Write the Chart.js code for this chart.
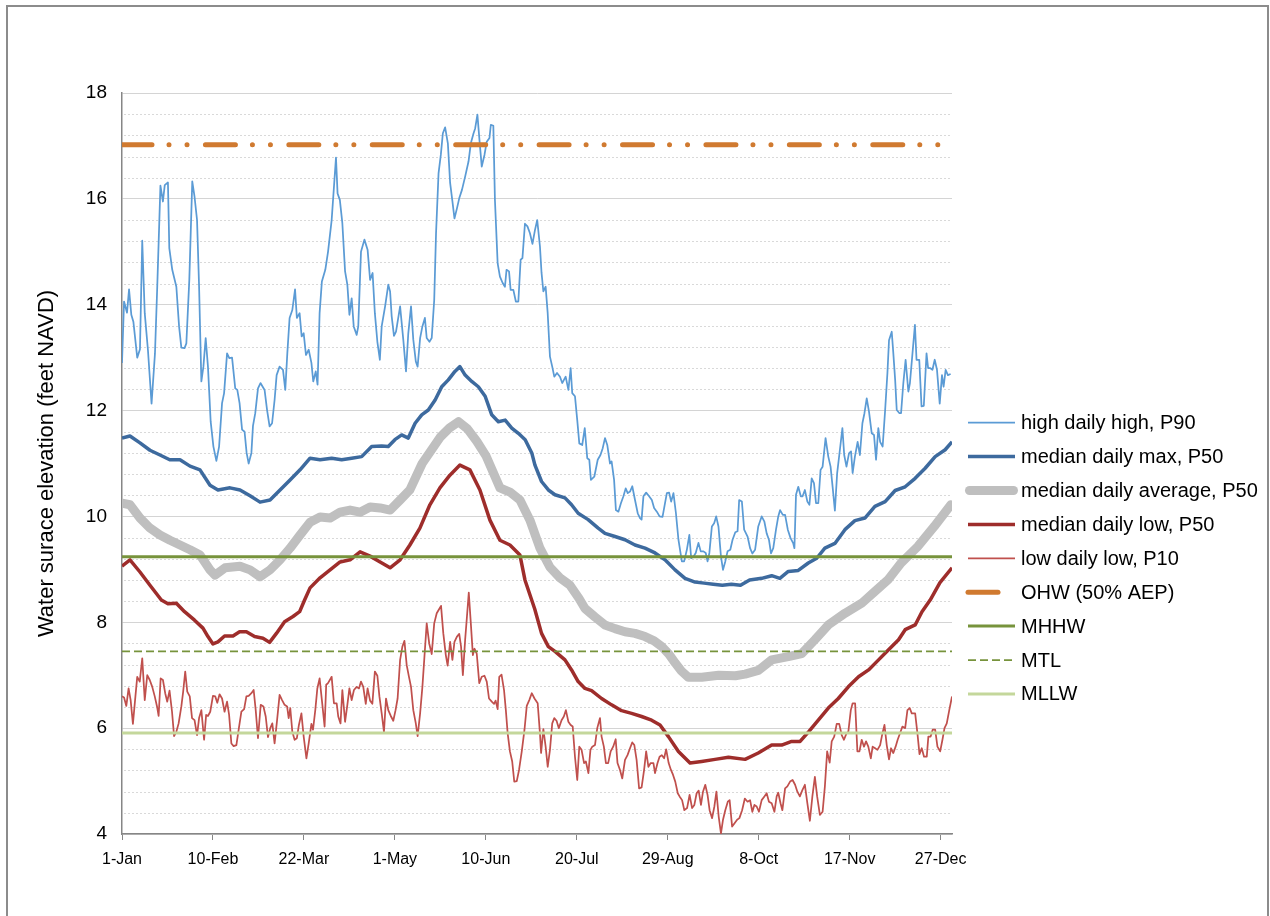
<!DOCTYPE html>
<html>
<head>
<meta charset="utf-8">
<script src="https://cdn.jsdelivr.net/npm/chart.js@4.4.1/dist/chart.umd.min.js"></script>
<style>
  html, body { margin: 0; padding: 0; background: #ffffff; }
  #wrap { width: 1270px; height: 916px; position: relative; }
</style>
</head>
<body>
<div id="wrap"><canvas id="c" width="1270" height="916"></canvas></div>
<script>
// Day of year (0 = 1-Jan) tick positions and their labels
const TICK_DAYS = [0, 40, 80, 120, 160, 200, 240, 280, 320, 360];
const TICK_LABELS = ['1-Jan', '10-Feb', '22-Mar', '1-May', '10-Jun', '20-Jul', '29-Aug', '8-Oct', '17-Nov', '27-Dec'];

// Reference tidal / flood levels (feet NAVD)
const OHW_LEVEL = 17.02;
const MHHW_LEVEL = 9.24;
const MTL_LEVEL = 7.45;
const MLLW_LEVEL = 5.91;

// High daily high, P90
const p90Days = [0,0.9,2.2,3.1,4.1,5.0,6.7,7.9,8.9,10.0,11.4,13.0,14.5,15.5,16.9,18.0,18.8,20.2,20.8,22.1,23.9,25.1,26.1,27.5,28.3,29.6,30.9,31.9,33.0,33.9,34.9,35.8,36.8,37.8,39.0,40.2,41.5,42.7,44.0,44.9,46.2,47.2,48.4,49.8,50.7,51.7,52.8,53.9,54.8,55.7,56.9,57.6,58.6,59.8,60.9,62.7,63.8,64.9,66.0,67.1,68.0,69.3,70.8,71.8,72.7,73.7,74.9,76.1,76.9,78.1,79.0,79.9,80.9,82.1,83.3,84.1,85.2,86.0,86.9,87.9,89.4,90.6,92.2,94.1,94.8,95.8,96.9,98.1,99.1,100.0,101.0,101.9,103.2,103.9,105.1,106.6,108.0,109.1,110.2,111.2,112.3,113.4,114.2,115.7,117.1,117.9,118.6,119.6,120.5,122.3,123.7,124.9,125.9,127.1,128.1,129.2,130.0,131.1,132.1,133.2,134.0,135.2,136.2,137.3,138.1,139.2,140.2,141.1,142.1,143.3,144.3,145.4,146.2,147.3,148.3,149.5,150.9,152.4,153.4,154.6,155.3,156.3,157.2,158.2,159.4,160.4,161.6,162.2,163.3,164.0,165.2,166.2,167.4,168.4,169.1,170.2,170.9,172.1,173.2,174.3,175.3,176.1,177.2,178.3,179.4,180.5,181.6,182.6,183.8,184.5,185.3,186.3,187.2,188.2,189.2,190.1,191.3,192.6,193.6,195.1,196.3,197.3,198.0,199.2,200.2,201.1,202.4,203.5,204.6,205.5,206.2,207.7,209.2,210.4,211.4,212.4,213.4,214.6,215.3,216.4,217.2,218.3,219.4,220.5,221.5,222.4,223.4,224.4,225.6,226.8,227.8,228.5,229.3,230.5,231.8,233.0,234.0,235.2,236.4,237.7,238.8,239.6,240.6,241.5,242.5,243.6,244.7,246.2,247.2,248.4,249.5,250.3,251.3,252.3,253.5,254.5,255.7,256.7,257.5,258.3,259.4,260.4,261.3,262.3,263.4,264.3,265.3,266.3,267.5,268.5,269.7,270.7,271.4,272.6,273.6,275.1,276.2,277.2,278.4,279.8,281.3,282.5,283.5,284.5,285.4,286.4,287.6,288.6,289.4,290.6,291.6,292.8,294.0,295.2,295.7,296.4,297.4,298.5,299.3,300.3,301.4,302.3,303.3,304.3,305.2,306.2,307.2,308.1,309.4,310.6,311.6,312.5,313.5,314.5,315.7,316.8,317.6,318.6,319.7,320.6,321.3,322.3,323.5,324.5,325.6,326.5,327.5,328.5,329.7,330.7,331.6,332.6,333.4,334.5,335.6,336.6,337.3,338.5,339.2,340.0,340.7,341.9,342.6,343.6,344.6,345.8,346.5,347.5,348.7,349.4,350.6,351.6,352.6,353.8,354.5,355.5,356.4,357.4,358.4,359.6,360.6,361.3,362.2,363.2,364.4];
const p90Vals = [12.9,14.06,13.85,14.29,13.81,13.68,13.0,13.16,15.21,13.84,13.15,12.13,13.08,14.34,16.25,15.95,16.26,16.31,15.07,14.66,14.34,13.59,13.19,13.18,13.27,14.47,16.33,16.04,15.6,14.34,12.55,12.83,13.37,12.83,11.79,11.32,11.05,11.32,12.14,12.33,13.08,12.99,13.0,12.42,12.39,12.14,11.64,11.6,11.2,11.0,11.2,11.71,11.95,12.42,12.52,12.39,12.01,11.7,11.76,12.2,12.67,12.83,12.77,12.39,13.08,13.75,13.9,14.29,13.75,13.84,13.4,13.46,13.05,13.15,12.9,12.55,12.74,12.49,13.84,14.44,14.66,15.0,15.6,16.78,16.1,15.98,15.54,14.63,14.38,13.81,14.12,13.59,13.43,13.59,15.0,15.23,15.04,14.47,14.6,13.84,13.3,12.96,13.59,13.97,14.38,14.25,13.78,13.41,13.49,13.97,13.34,12.74,13.46,13.97,13.34,12.93,12.83,13.37,13.59,13.75,13.37,13.3,13.37,14.09,15.35,16.48,16.83,17.24,17.35,17.05,16.3,15.92,15.63,15.82,16.01,16.17,16.42,16.71,17.05,17.24,17.33,17.59,17.11,16.61,16.83,17.08,17.15,17.4,17.38,15.98,14.78,14.53,14.41,14.34,14.66,14.63,14.28,14.28,14.06,14.06,14.85,14.88,15.53,15.48,15.35,15.15,15.41,15.6,15.1,14.6,14.25,14.34,13.84,13.02,12.83,12.64,12.71,12.64,12.52,12.64,12.39,12.8,12.33,12.27,11.82,11.38,11.35,11.67,11.1,11.07,10.69,10.75,11.07,11.16,11.29,11.48,11.35,11.0,11.04,10.69,10.12,10.09,10.25,10.38,10.53,10.44,10.47,10.57,10.31,10.06,9.97,9.94,10.38,10.45,10.38,10.31,10.16,10.09,10.0,9.99,10.25,10.44,10.45,10.28,10.44,10.06,9.56,9.15,9.15,9.37,9.65,9.21,9.24,9.31,9.5,9.34,9.34,9.31,9.15,9.31,9.81,9.87,10.0,9.81,9.24,8.99,9.15,9.34,9.37,9.56,9.7,9.72,10.31,10.28,9.75,9.62,9.4,9.3,9.37,9.81,10.0,9.9,9.68,9.56,9.3,9.4,9.75,10.0,10.12,10.03,10.03,9.75,9.59,9.49,9.4,10.41,10.56,10.38,10.38,10.5,10.28,10.22,10.72,10.63,10.25,10.25,10.88,10.94,11.48,11.13,10.94,10.56,10.11,10.82,11.26,11.67,11.16,10.94,11.19,11.23,10.82,11.13,11.41,11.16,11.76,11.95,12.23,11.98,11.57,11.54,11.07,11.67,11.41,11.32,12.01,12.71,13.33,13.49,13.08,12.58,12.01,11.95,11.95,12.52,12.96,12.36,12.52,13.02,13.62,12.96,12.96,12.08,12.09,13.08,12.8,12.8,12.77,12.96,12.77,12.13,12.67,12.45,12.77,12.67,12.69];

// Median daily max, P50
const maxDays = [0,3.5,7.9,12.3,16.7,21,25.5,29.9,34.3,38.7,42.2,47.5,51.9,56.3,60.7,65.1,69.5,73.9,78.3,82.7,87.1,92.2,96.6,101,105.4,109.8,114.2,117.1,120,123,125.9,128.9,131.8,134.7,137.7,140.6,143.5,146.4,148.6,150.9,153.8,156.7,159.7,162.6,165.5,168.5,171.4,174.3,177.3,180.2,181.6,184.5,187.5,190.4,194.8,197.7,200.6,205,209.4,212.4,216.8,221.2,225.6,230,234.4,238.8,243.2,247.6,252,256,260,264,268,272,276,281.3,285.7,289.3,293,297.4,301.8,305.5,309.1,313.5,317.9,322.3,326.7,331.1,335.6,340,344.4,348.8,353.2,357.6,362,365];
const maxVals = [11.48,11.52,11.39,11.25,11.16,11.07,11.07,10.95,10.88,10.59,10.5,10.54,10.5,10.39,10.27,10.31,10.5,10.69,10.88,11.1,11.07,11.1,11.07,11.1,11.13,11.32,11.33,11.32,11.45,11.54,11.48,11.76,11.92,12.01,12.2,12.45,12.58,12.74,12.83,12.67,12.55,12.45,12.27,11.92,11.79,11.82,11.67,11.57,11.45,11.2,10.97,10.66,10.5,10.41,10.35,10.22,10.06,9.94,9.78,9.68,9.62,9.56,9.46,9.4,9.31,9.18,8.99,8.83,8.76,8.74,8.72,8.7,8.72,8.7,8.8,8.83,8.88,8.83,8.96,8.98,9.12,9.21,9.4,9.49,9.75,9.92,9.97,10.19,10.28,10.49,10.56,10.72,10.91,11.13,11.26,11.41];

// Median daily average, P50
const avgDays = [0,3.5,7.9,12.3,16.7,21.1,25.5,29.9,34.3,38.7,40.9,45.3,51.9,56.3,60.7,65.1,69.5,73.9,78.3,82.7,87.1,91.5,95.9,100.3,104.7,109.1,113.5,117.9,122.3,126.6,132,136,140,144,148,152,156,160,166.2,170.6,175,179.4,183.8,188.2,192.6,197,201,203.6,208,212.4,216.8,221.2,225.6,230,234,237.4,240.5,243.3,246,249.1,255,262.4,269.7,274,279.8,285.7,293,298.9,304.7,310.6,317.9,325.3,331,336.8,342.6,349.9,357.2,364.5];
const avgVals = [10.25,10.22,9.97,9.78,9.65,9.55,9.46,9.37,9.27,8.99,8.89,9.03,9.06,8.99,8.86,8.99,9.18,9.4,9.65,9.89,9.99,9.97,10.08,10.12,10.08,10.18,10.16,10.12,10.31,10.5,11.0,11.25,11.5,11.67,11.79,11.65,11.42,11.15,10.54,10.46,10.31,9.93,9.4,9.04,8.84,8.7,8.45,8.26,8.1,7.95,7.88,7.82,7.79,7.73,7.65,7.54,7.4,7.23,7.08,6.96,6.96,7.0,6.99,7.02,7.09,7.29,7.35,7.41,7.67,7.95,8.17,8.36,8.58,8.8,9.12,9.43,9.81,10.22];

// Median daily low, P50
const lowDays = [0,3.5,7.9,12.3,17.3,20.2,23.9,27.5,31.9,35.6,37.8,40,42.2,45.1,48.8,51.7,54.7,58.3,62,64.9,67.9,71.5,75.2,78.1,80.3,82.7,87.1,91.5,95.9,100.3,104.7,109.1,113.5,117.9,122.3,126.6,131,135.4,139.8,144.2,148.6,153,157.4,161.8,166.2,170.6,175,177.2,181.5,184.5,187.5,190.4,194.8,197.7,200.6,203.6,206.5,210.9,215.3,219.7,224.1,228.5,232.9,236.6,240.3,244.7,249.8,254.9,260.8,266.7,274,279.8,285.7,290.1,294.5,298.2,301.9,306.2,310.6,315,319.4,323.9,328.3,332.7,337.1,341.5,344.4,348.8,351.8,355.4,359.7,365];
const lowVals = [9.06,9.18,8.95,8.7,8.42,8.35,8.36,8.2,8.04,7.89,7.73,7.59,7.63,7.74,7.74,7.82,7.82,7.73,7.7,7.62,7.79,8.01,8.11,8.2,8.42,8.65,8.84,8.99,9.14,9.18,9.33,9.25,9.14,9.03,9.18,9.46,9.78,10.22,10.54,10.78,10.97,10.88,10.5,9.93,9.55,9.46,9.27,8.8,8.25,7.79,7.54,7.45,7.29,7.1,6.88,6.75,6.71,6.56,6.44,6.33,6.28,6.22,6.15,6.06,5.84,5.56,5.34,5.37,5.41,5.45,5.41,5.53,5.68,5.68,5.75,5.75,5.93,6.15,6.38,6.56,6.78,6.97,7.1,7.29,7.48,7.67,7.86,7.95,8.2,8.42,8.75,9.03];

// Low daily low, P10
const p10Days = [0,0.9,1.9,2.9,3.8,4.8,5.9,6.7,7.8,8.9,10.0,11.1,12.2,13.3,14.4,15.4,16.1,17.0,18.0,19.0,19.9,20.9,22.0,22.9,23.9,24.9,26.1,26.9,27.8,28.7,29.8,30.8,31.9,33.0,33.9,34.9,36.1,37.0,37.8,38.8,40.0,41.0,41.9,42.9,44.0,45.1,46.2,47.1,48.1,49.1,50.3,51.3,52.5,53.7,54.7,55.7,56.9,57.9,58.8,59.8,61.0,62.2,63.2,64.2,65.2,66.1,67.1,68.2,69.3,70.4,71.5,72.6,73.3,74.0,74.9,75.9,76.9,77.8,78.9,79.9,81.1,82.1,83.3,84.0,85.0,85.9,86.9,87.9,89.1,89.8,90.6,92.2,93.2,94.4,95.1,96.1,96.9,98.1,99.1,100.0,101.0,102.0,103.2,104.2,105.1,106.1,107.2,108.0,109.1,110.1,111.2,112.3,113.2,114.2,115.2,116.1,117.1,118.2,119.3,120.3,121.2,122.3,123.3,124.2,125.2,126.2,127.1,128.1,129.2,130.0,131.1,132.1,133.0,134.0,135.1,136.2,137.3,138.4,139.5,140.3,141.3,142.4,143.2,144.3,145.3,146.2,147.3,148.3,149.1,149.9,150.9,151.7,152.5,153.4,154.3,155.0,156.0,157.1,158.2,159.4,160.4,161.4,162.6,163.6,164.3,165.2,165.9,166.9,168.0,168.8,169.6,170.6,171.6,172.5,173.6,174.6,175.8,177.0,178.0,179.1,180.2,181.4,182.8,183.8,184.3,185.3,186.3,187.2,188.2,189.2,190.1,191.1,192.1,193.3,194.3,195.2,196.3,197.3,198.2,199.2,200.2,201.1,202.1,203.2,204.0,205.1,206.0,206.8,208.0,209.0,210.2,210.9,211.9,212.8,213.8,214.9,216.0,217.1,217.9,219.0,220.0,221.2,222.3,223.4,224.4,225.3,226.3,227.4,228.5,229.6,230.5,231.5,232.5,233.7,234.4,235.5,236.4,237.4,238.4,239.3,240.4,241.4,242.3,243.3,244.4,245.2,246.3,247.3,248.5,249.6,250.7,251.7,252.7,253.6,254.6,255.5,256.5,257.5,258.4,259.5,260.5,261.4,262.4,263.4,264.3,265.3,266.4,267.2,268.3,269.3,270.5,271.5,272.7,273.9,275.1,276.2,277.2,278.1,279.1,280.1,281.3,282.5,283.5,284.5,285.7,286.9,287.9,288.6,289.6,290.4,291.6,292.6,293.8,294.9,296.0,297.0,298.1,299.2,300.3,301.4,302.5,303.6,304.7,305.7,306.9,308.1,309.1,310.1,311.2,312.1,313.2,314.3,315.4,316.5,317.5,318.6,319.4,320.5,321.3,322.4,323.4,324.3,325.3,326.3,327.2,328.2,329.3,330.1,331.2,332.2,333.4,334.4,335.3,336.3,337.3,338.2,339.2,340.2,341.1,342.1,343.2,344.4,345.4,346.4,347.3,348.8,349.8,350.7,351.7,352.7,353.9,354.6,355.6,356.5,357.6,358.6,359.8,360.8,361.7,362.7,363.8,365.0];
const p10Vals = [6.6,6.58,6.42,6.75,6.53,6.08,6.6,6.97,6.88,7.32,6.53,7.0,6.91,6.78,6.6,6.41,6.23,6.94,6.91,6.66,6.5,6.71,6.31,5.85,5.93,6.09,6.41,6.69,7.07,6.69,6.6,6.19,6.15,5.87,6.19,6.34,5.78,6.25,6.23,6.31,6.61,6.6,6.48,6.64,6.56,6.31,6.5,6.25,5.71,5.66,5.68,5.97,6.31,6.36,6.6,6.61,6.66,6.72,6.34,5.81,6.44,6.41,6.22,5.83,6.0,6.09,5.71,6.15,6.63,6.53,6.44,6.41,6.19,6.38,5.93,5.78,5.81,6.06,6.28,5.84,5.43,5.71,6.08,5.97,6.34,6.75,6.94,6.53,6.03,6.82,6.85,6.97,6.47,6.47,6.22,6.09,6.72,6.12,6.44,6.75,6.53,6.72,6.78,6.75,6.88,6.78,6.46,6.75,6.52,6.46,7.07,6.99,6.6,6.28,5.93,6.56,6.34,6.23,6.14,6.34,6.56,7.29,7.54,7.65,7.19,6.97,6.78,6.34,6.09,5.85,6.28,6.78,7.35,7.98,7.6,7.4,7.98,8.17,8.25,8.31,7.79,7.38,7.18,7.63,7.29,7.63,7.73,7.78,7.54,7.0,7.67,8.11,8.56,7.98,7.38,7.5,7.41,6.85,6.97,6.99,6.88,6.56,6.5,6.46,6.52,6.36,6.97,7.01,6.72,6.34,5.9,5.56,5.37,4.99,5.0,5.21,5.56,5.97,6.42,6.53,6.66,6.56,6.47,5.9,5.53,5.98,5.65,5.27,5.59,6.09,6.19,6.14,6.0,6.15,6.22,6.34,6.12,6.06,6.03,5.46,5.02,5.65,5.59,5.34,5.37,5.15,5.59,5.65,5.68,6.0,6.19,5.84,5.65,5.34,5.34,5.56,5.65,5.79,5.34,5.21,5.05,5.4,5.49,5.62,5.73,5.68,5.4,4.86,4.88,5.21,5.56,5.27,5.34,5.34,5.15,5.34,5.46,5.49,5.43,5.6,5.34,5.21,5.12,4.99,4.77,4.71,4.64,4.45,4.49,4.74,4.49,4.55,4.77,4.82,4.55,4.8,4.93,4.74,4.45,4.3,4.52,4.8,4.33,4.01,4.27,4.45,4.61,4.64,4.14,4.2,4.27,4.3,4.45,4.67,4.61,4.64,4.42,4.55,4.52,4.42,4.64,4.71,4.77,4.61,4.58,4.42,4.71,4.78,4.58,4.45,4.86,4.9,4.99,5.02,4.93,4.8,4.71,4.83,4.93,4.58,4.25,4.71,5.08,4.71,4.36,4.42,4.9,5.56,5.35,5.75,5.84,6.08,6.08,5.87,5.78,5.9,5.93,6.34,6.47,6.47,5.56,5.56,5.78,5.65,5.75,5.65,5.43,5.65,5.62,5.59,5.68,5.9,6.06,5.68,5.41,5.62,5.53,5.65,5.78,5.9,6.03,6.0,6.34,6.38,6.28,6.28,5.9,5.51,5.62,5.46,5.46,5.84,5.84,5.97,5.97,5.65,5.56,5.78,6.0,6.09,6.34,6.6];

const YEAR_END = 365;
const FONT = '"Liberation Sans", Arial, sans-serif';

const pts = (days, vals) => days.map((d, i) => ({ x: d, y: vals[i] }));
const flat = (v) => [{ x: 0, y: v }, { x: YEAR_END, y: v }];

const seriesDefs = [
  { label: 'high daily high, P90', data: pts(p90Days, p90Vals), borderColor: '#5b9bd5', borderWidth: 1.75 },
  { label: 'median daily max, P50', data: pts(maxDays, maxVals), borderColor: '#3d6a9e', borderWidth: 3.5 },
  { label: 'median daily average, P50', data: pts(avgDays, avgVals), borderColor: '#bfbfbf', borderWidth: 9, borderCapStyle: 'round' },
  { label: 'median daily low, P50', data: pts(lowDays, lowVals), borderColor: '#9e2d2b', borderWidth: 3.5 },
  { label: 'low daily low, P10', data: pts(p10Days, p10Vals), borderColor: '#c0504d', borderWidth: 1.75 },
  { label: 'OHW (50% AEP)', data: flat(OHW_LEVEL), borderColor: '#d07a30', borderWidth: 5, borderCapStyle: 'round', borderDash: [30, 17, 0.01, 18, 0.01, 18.4] },
  { label: 'MHHW', data: flat(MHHW_LEVEL), borderColor: '#77933c', borderWidth: 3 },
  { label: 'MTL', data: flat(MTL_LEVEL), borderColor: '#77933c', borderWidth: 1.75, borderDash: [8, 4] },
  { label: 'MLLW', data: flat(MLLW_LEVEL), borderColor: '#c4d79b', borderWidth: 3 }
];

const datasets = seriesDefs.map((s, i) => Object.assign({
  pointRadius: 0,
  pointHoverRadius: 0,
  tension: 0,
  fill: false,
  borderJoinStyle: 'round',
  borderCapStyle: 'butt',
  order: seriesDefs.length - i   // later series are painted on top
}, s));

// Frame, dotted minor gridlines and the legend column on the right
const decorations = {
  id: 'decorations',
  beforeDraw(chart) {
    const ctx = chart.ctx;
    ctx.save();
    ctx.fillStyle = '#ffffff';
    ctx.fillRect(0, 0, chart.width, chart.height);
    ctx.strokeStyle = '#8c8c8c';
    ctx.lineWidth = 2;
    ctx.strokeRect(7, 6, 1261, 930);
    ctx.restore();
  },
  beforeDatasetsDraw(chart) {
    const ctx = chart.ctx;
    const y = chart.scales.y;
    const area = chart.chartArea;
    ctx.save();
    ctx.strokeStyle = '#d9d9d9';
    ctx.lineWidth = 1;
    ctx.setLineDash([2, 2]);
    const n = Math.round((y.max - y.min) / 0.4);
    for (let i = 1; i < n; i++) {
      if (i % 5 === 0) continue;
      const py = Math.round(y.getPixelForValue(y.min + i * 0.4)) + 0.5;
      ctx.beginPath();
      ctx.moveTo(area.left + 2, py);
      ctx.lineTo(area.right, py);
      ctx.stroke();
    }
    ctx.restore();
  },
  afterDraw(chart) {
    const ctx = chart.ctx;
    ctx.save();
    ctx.textBaseline = 'middle';
    ctx.textAlign = 'left';
    ctx.font = '20px ' + FONT;
    chart.data.datasets.forEach((ds, i) => {
      const cy = 422.7 + i * 33.9;
      ctx.strokeStyle = ds.borderColor;
      ctx.lineWidth = ds.borderWidth;
      ctx.lineCap = ds.borderCapStyle || 'butt';
      ctx.setLineDash(ds.borderDash || []);
      const x0 = ds.borderCapStyle === 'round' && !ds.borderDash ? 969.5 : 968;
      const x1 = ds.borderCapStyle === 'round' && !ds.borderDash ? 1013.5 : 1015;
      ctx.beginPath();
      ctx.moveTo(x0, cy);
      ctx.lineTo(x1, cy);
      ctx.stroke();
      ctx.setLineDash([]);
      ctx.fillStyle = '#000000';
      ctx.fillText(ds.label, 1021, cy + 1);
    });
    ctx.restore();
  }
};

Chart.defaults.font.family = FONT;

new Chart(document.getElementById('c'), {
  type: 'line',
  data: { datasets },
  plugins: [decorations],
  options: {
    responsive: false,
    animation: false,
    devicePixelRatio: 1,
    parsing: true,
    layout: { padding: { left: 0, right: 318, top: 93, bottom: 0 } },
    plugins: {
      legend: { display: false },
      tooltip: { enabled: false }
    },
    scales: {
      x: {
        type: 'linear',
        min: 0,
        max: YEAR_END,
        afterBuildTicks(scale) { scale.ticks = TICK_DAYS.map(v => ({ value: v })); },
        afterFit(scale) { scale.height = 82; },
        ticks: {
          autoSkip: false,
          maxRotation: 0,
          padding: 10,
          color: '#000000',
          font: { size: 16 },
          callback: (v) => { const k = TICK_DAYS.indexOf(v); return k >= 0 ? TICK_LABELS[k] : ''; }
        },
        grid: { drawOnChartArea: false, drawTicks: true, tickLength: 6, tickColor: '#868686', tickWidth: 1 },
        border: { display: true, color: '#868686', width: 1.5 }
      },
      y: {
        type: 'linear',
        min: 4,
        max: 18,
        afterFit(scale) { scale.width = 122; },
        ticks: { stepSize: 2, padding: 15, color: '#000000', font: { size: 19 } },
        grid: { color: '#d4d4d4', lineWidth: 1, drawTicks: false },
        border: { display: true, color: '#868686', width: 1.5 },
        title: {
          display: true,
          text: 'Water surace elevation (feet NAVD)',
          color: '#000000',
          font: { size: 22 },
          padding: { top: 34, bottom: 0 }
        }
      }
    }
  }
});
</script>
</body>
</html>
